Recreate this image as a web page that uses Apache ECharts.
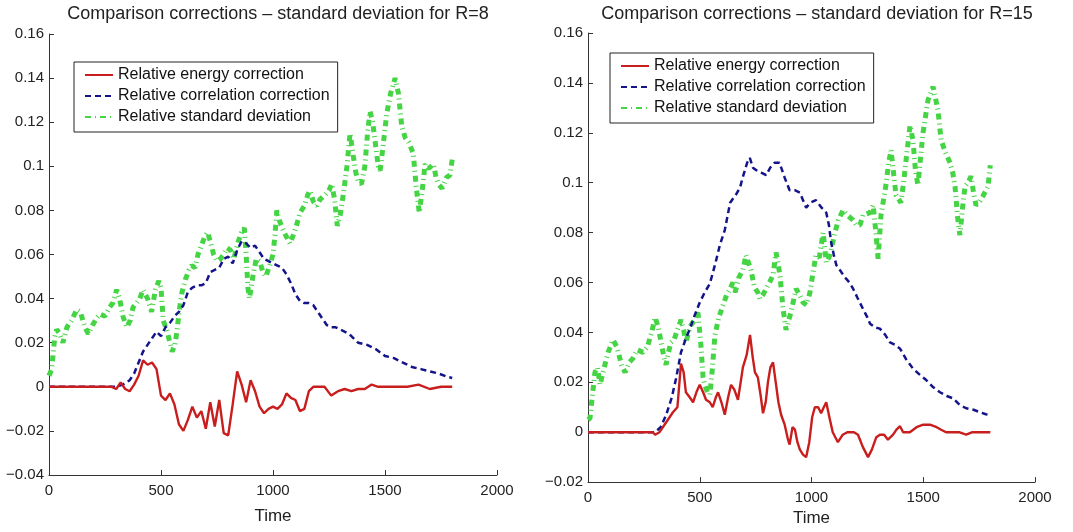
<!DOCTYPE html>
<html>
<head>
<meta charset="utf-8">
<title>Comparison corrections</title>
<script src="https://cdn.jsdelivr.net/npm/echarts@6.0.0/dist/echarts.min.js"></script>
<style>
  html, body { margin: 0; padding: 0; background: #fff; }
  #chart { width: 1073px; height: 532px; }
</style>
</head>
<body>
<div id="chart"></div>
<script>
// 图例名称
var seriesNames = ['Relative energy correction', 'Relative correlation correction', 'Relative standard deviation'];
var titles = ['Comparison corrections \u2013 standard deviation for R=8', 'Comparison corrections \u2013 standard deviation for R=15'];

// 左图 R=8 : [time, value]
var leftEnergy = [[0,0],[280,0],[300,-0.001],[320,0.002],[340,-0.001],[360,-0.002],[380,0.001],[400,0.005],[420,0.012],[440,0.010],[460,0.011],[480,0.008],[500,-0.004],[520,-0.006],[540,-0.003],[560,-0.008],[580,-0.017],[600,-0.020],[620,-0.015],[640,-0.009],[660,-0.014],[680,-0.011],[700,-0.019],[720,-0.007],[740,-0.018],[760,-0.006],[780,-0.021],[800,-0.022],[820,-0.008],[840,0.007],[860,0.001],[880,-0.007],[900,0.003],[920,-0.002],[940,-0.009],[960,-0.012],[980,-0.010],[1000,-0.009],[1020,-0.010],[1040,-0.008],[1060,-0.003],[1080,-0.005],[1100,-0.006],[1120,-0.011],[1140,-0.010],[1160,-0.002],[1180,0],[1200,0],[1230,0],[1260,-0.004],[1290,-0.002],[1320,-0.001],[1350,-0.002],[1380,-0.001],[1410,-0.001],[1440,0.001],[1470,0],[1500,0],[1550,0],[1600,0],[1650,0.001],[1700,-0.001],[1750,0],[1800,0]];
var leftCorrelation = [[0,0],[300,0],[330,0.001],[360,0.003],[380,0.006],[400,0.011],[420,0.016],[440,0.019],[460,0.022],[480,0.025],[500,0.023],[520,0.027],[540,0.029],[560,0.032],[580,0.034],[600,0.037],[620,0.043],[640,0.045],[660,0.046],[680,0.046],[700,0.047],[720,0.052],[740,0.053],[760,0.054],[780,0.058],[800,0.059],[820,0.056],[840,0.062],[860,0.066],[880,0.065],[900,0.063],[920,0.064],[940,0.061],[960,0.058],[980,0.057],[1000,0.056],[1020,0.055],[1040,0.054],[1060,0.051],[1080,0.047],[1100,0.042],[1120,0.039],[1140,0.038],[1160,0.038],[1180,0.037],[1200,0.034],[1220,0.031],[1240,0.028],[1260,0.027],[1280,0.027],[1300,0.026],[1340,0.024],[1380,0.020],[1420,0.019],[1460,0.017],[1500,0.014],[1540,0.013],[1580,0.011],[1620,0.009],[1660,0.008],[1700,0.007],[1740,0.006],[1780,0.0045],[1800,0.004]];
var leftStd = [[0,0.005],[12,0.008],[25,0.022],[34,0.026],[48,0.024],[62,0.020],[80,0.027],[100,0.030],[124,0.035],[140,0.034],[160,0.027],[176,0.024],[195,0.028],[212,0.031],[228,0.033],[250,0.032],[270,0.036],[285,0.038],[302,0.044],[315,0.040],[330,0.032],[347,0.027],[362,0.030],[375,0.036],[391,0.038],[405,0.040],[420,0.044],[440,0.040],[458,0.034],[475,0.044],[490,0.048],[500,0.045],[510,0.030],[525,0.026],[540,0.020],[550,0.016],[562,0.019],[571,0.025],[582,0.035],[594,0.043],[610,0.049],[625,0.053],[637,0.055],[652,0.054],[665,0.060],[680,0.064],[695,0.068],[708,0.070],[720,0.066],[735,0.060],[750,0.057],[765,0.058],[780,0.060],[795,0.063],[810,0.062],[825,0.058],[845,0.066],[860,0.070],[872,0.072],[880,0.060],[888,0.045],[895,0.040],[910,0.050],[925,0.058],[940,0.057],[955,0.052],[968,0.050],[985,0.055],[1000,0.060],[1008,0.068],[1017,0.080],[1030,0.075],[1050,0.070],[1076,0.065],[1095,0.070],[1110,0.075],[1121,0.079],[1140,0.082],[1155,0.087],[1165,0.089],[1180,0.084],[1195,0.082],[1210,0.085],[1232,0.087],[1250,0.089],[1262,0.092],[1275,0.085],[1287,0.073],[1300,0.078],[1315,0.088],[1330,0.100],[1344,0.115],[1358,0.105],[1370,0.097],[1381,0.093],[1395,0.092],[1410,0.100],[1422,0.115],[1433,0.125],[1445,0.120],[1460,0.108],[1470,0.100],[1478,0.098],[1490,0.108],[1508,0.124],[1525,0.133],[1545,0.140],[1560,0.133],[1575,0.118],[1590,0.113],[1605,0.111],[1626,0.106],[1640,0.090],[1653,0.079],[1665,0.088],[1679,0.101],[1695,0.099],[1716,0.101],[1728,0.095],[1738,0.092],[1755,0.090],[1775,0.095],[1790,0.096],[1800,0.103]];

// 右图 R=15 : [time, value]
var rightEnergy = [[0,0],[290,0],[300,-0.001],[320,0],[350,0.004],[380,0.008],[400,0.010],[416,0.0275],[428,0.024],[438,0.016],[455,0.014],[470,0.012],[485,0.016],[500,0.019],[515,0.016],[528,0.013],[545,0.012],[558,0.010],[572,0.014],[582,0.016],[597,0.012],[612,0.007],[627,0.014],[640,0.019],[655,0.017],[671,0.013],[683,0.020],[693,0.026],[710,0.031],[725,0.039],[737,0.030],[747,0.024],[760,0.022],[772,0.015],[783,0.0076],[795,0.012],[805,0.020],[816,0.026],[828,0.028],[840,0.020],[852,0.012],[864,0.007],[880,0.003],[895,-0.003],[902,-0.005],[915,0.002],[926,0.001],[937,-0.004],[948,-0.007],[962,-0.009],[976,-0.010],[990,-0.004],[1003,0.006],[1015,0.010],[1030,0.010],[1043,0.0076],[1055,0.010],[1066,0.012],[1080,0.006],[1095,0],[1118,-0.004],[1140,-0.001],[1160,0],[1190,0],[1208,-0.001],[1230,-0.006],[1253,-0.010],[1270,-0.007],[1290,-0.002],[1306,-0.001],[1325,-0.001],[1342,-0.003],[1365,-0.001],[1380,0.001],[1396,0.0024],[1410,0],[1440,0],[1470,0.002],[1500,0.003],[1530,0.003],[1560,0.002],[1580,0.001],[1602,0],[1630,0],[1660,0],[1692,-0.001],[1720,0],[1752,0],[1780,0],[1800,0]];
var rightCorrelation = [[0,0],[300,0],[325,0.002],[350,0.007],[375,0.014],[394,0.0215],[416,0.032],[436,0.037],[456,0.0415],[478,0.047],[500,0.052],[522,0.056],[545,0.0595],[568,0.067],[590,0.075],[612,0.081],[636,0.092],[664,0.0955],[680,0.098],[692,0.102],[712,0.108],[724,0.110],[738,0.106],[753,0.105],[775,0.104],[797,0.103],[815,0.106],[835,0.108],[857,0.108],[880,0.102],[902,0.097],[925,0.097],[948,0.096],[962,0.093],[976,0.090],[995,0.092],[1020,0.093],[1045,0.090],[1066,0.088],[1078,0.083],[1088,0.076],[1100,0.071],[1111,0.067],[1127,0.065],[1150,0.062],[1170,0.060],[1186,0.0575],[1205,0.054],[1230,0.0495],[1250,0.046],[1262,0.0435],[1285,0.042],[1306,0.0415],[1330,0.039],[1351,0.036],[1375,0.035],[1396,0.0335],[1425,0.029],[1454,0.0255],[1485,0.023],[1512,0.021],[1545,0.018],[1575,0.016],[1605,0.0145],[1633,0.0136],[1662,0.011],[1692,0.0096],[1725,0.009],[1754,0.008],[1780,0.0072],[1800,0.0068]];
var rightStd = [[0,0.005],[9,0.0056],[20,0.015],[31,0.024],[42,0.026],[54,0.019],[70,0.025],[90,0.032],[112,0.037],[130,0.034],[150,0.027],[166,0.024],[185,0.028],[201,0.0296],[220,0.033],[246,0.032],[265,0.034],[285,0.040],[300,0.046],[315,0.042],[327,0.036],[340,0.030],[349,0.027],[360,0.032],[371,0.036],[385,0.037],[400,0.041],[416,0.045],[428,0.041],[438,0.036],[450,0.040],[461,0.043],[478,0.045],[492,0.048],[505,0.035],[515,0.022],[522,0.019],[535,0.016],[545,0.015],[556,0.025],[568,0.039],[585,0.046],[605,0.051],[620,0.055],[636,0.0575],[648,0.060],[658,0.056],[675,0.062],[693,0.065],[707,0.071],[718,0.068],[729,0.065],[745,0.058],[760,0.056],[769,0.0535],[782,0.055],[797,0.0575],[812,0.060],[828,0.063],[841,0.072],[850,0.068],[860,0.062],[872,0.050],[886,0.041],[898,0.045],[908,0.048],[920,0.053],[931,0.0575],[947,0.055],[962,0.052],[978,0.051],[993,0.056],[1005,0.063],[1020,0.071],[1035,0.070],[1052,0.080],[1066,0.068],[1083,0.071],[1095,0.076],[1105,0.080],[1120,0.085],[1141,0.089],[1160,0.087],[1186,0.085],[1200,0.083],[1217,0.083],[1230,0.087],[1262,0.088],[1276,0.091],[1288,0.080],[1298,0.0695],[1311,0.087],[1333,0.099],[1345,0.108],[1356,0.113],[1367,0.104],[1378,0.095],[1400,0.092],[1412,0.100],[1423,0.109],[1441,0.123],[1454,0.117],[1465,0.105],[1476,0.099],[1488,0.110],[1499,0.120],[1521,0.133],[1544,0.1385],[1566,0.129],[1580,0.117],[1600,0.112],[1620,0.108],[1632,0.104],[1642,0.0986],[1655,0.085],[1664,0.079],[1676,0.090],[1687,0.0986],[1700,0.100],[1714,0.1026],[1725,0.096],[1736,0.091],[1750,0.092],[1767,0.0946],[1790,0.0986],[1800,0.107]];

var chart = echarts.init(document.getElementById('chart'));

var font = 'Liberation Sans, Arial, Helvetica, sans-serif';
var axisColor = '#333';

// y 轴刻度文字: 0.1, 0, −0.02
function tickText(v) {
    var s = String(parseFloat(v.toFixed(2)));
    return s.replace('-', '\u2212');
}

function makeXAxis(gridIndex, nameGap) {
    return {
        gridIndex: gridIndex,
        type: 'value',
        min: 0, max: 2000, interval: 500,
        name: 'Time', nameLocation: 'middle', nameGap: nameGap,
        nameTextStyle: { fontFamily: font, fontSize: 17, color: '#222' },
        axisLine: { onZero: false, lineStyle: { color: axisColor, width: 1 } },
        axisTick: { inside: true, length: 5, lineStyle: { color: axisColor } },
        axisLabel: { fontFamily: font, fontSize: 15, color: '#222', margin: 8,
                     formatter: function (v) { return String(v); } },
        splitLine: { show: false }
    };
}

function makeYAxis(gridIndex, min) {
    return {
        gridIndex: gridIndex,
        type: 'value',
        min: min, max: 0.16, interval: 0.02,
        axisLine: { show: true, onZero: false, lineStyle: { color: axisColor, width: 1 } },
        axisTick: { show: true, inside: true, length: 5, lineStyle: { color: axisColor } },
        axisLabel: { fontFamily: font, fontSize: 15, color: '#222', margin: 5, formatter: tickText },
        splitLine: { show: false }
    };
}

function makeLegend(left, top) {
    return {
        orient: 'vertical',
        left: left, top: top,
        padding: [5, 8, 7, 10],
        itemWidth: 28, itemHeight: 14, itemGap: 5,
        backgroundColor: '#fff',
        borderColor: '#222', borderWidth: 1, borderRadius: 0,
        textStyle: { fontFamily: font, fontSize: 16, color: '#111' },
        itemStyle: { opacity: 0 },
        lineStyle: { width: 2 },
        data: seriesNames
    };
}

var styles = [
    { color: '#c81e1e', width: 2.4, type: 'solid' },
    { color: '#14148a', width: 2.5, type: [6, 4] },
    { color: '#44d444', width: 5, type: [6, 4, 1, 4] }
];

function makeSeries(idx, data, k) {
    return {
        name: seriesNames[k],
        type: 'line',
        xAxisIndex: idx, yAxisIndex: idx,
        data: data,
        showSymbol: false, symbol: 'none',
        itemStyle: { color: styles[k].color },
        lineStyle: { color: styles[k].color, width: styles[k].width, type: styles[k].type },
        z: k === 0 ? 4 : (k === 1 ? 3 : 2)
    };
}

var option = {
    animation: false,
    backgroundColor: '#fff',
    title: [
        { text: titles[0], left: 273, top: 0, textAlign: 'center',
          textStyle: { fontFamily: font, fontSize: 18, fontWeight: 'normal', color: '#222' } },
        { text: titles[1], left: 812, top: 0, textAlign: 'center',
          textStyle: { fontFamily: font, fontSize: 18, fontWeight: 'normal', color: '#222' } }
    ],
    legend: [makeLegend(74, 62), makeLegend(610, 53)],
    grid: [
        { left: 49, top: 34, width: 448, height: 441 },
        { left: 588, top: 33, width: 447, height: 451 }
    ],
    xAxis: [makeXAxis(0, 33), makeXAxis(1, 26)],
    yAxis: [makeYAxis(0, -0.04), makeYAxis(1, -0.02)],
    series: [
        makeSeries(0, leftStd, 2),
        makeSeries(0, leftCorrelation, 1),
        makeSeries(0, leftEnergy, 0),
        makeSeries(1, rightStd, 2),
        makeSeries(1, rightCorrelation, 1),
        makeSeries(1, rightEnergy, 0)
    ]
};

chart.setOption(option);
</script>
</body>
</html>
